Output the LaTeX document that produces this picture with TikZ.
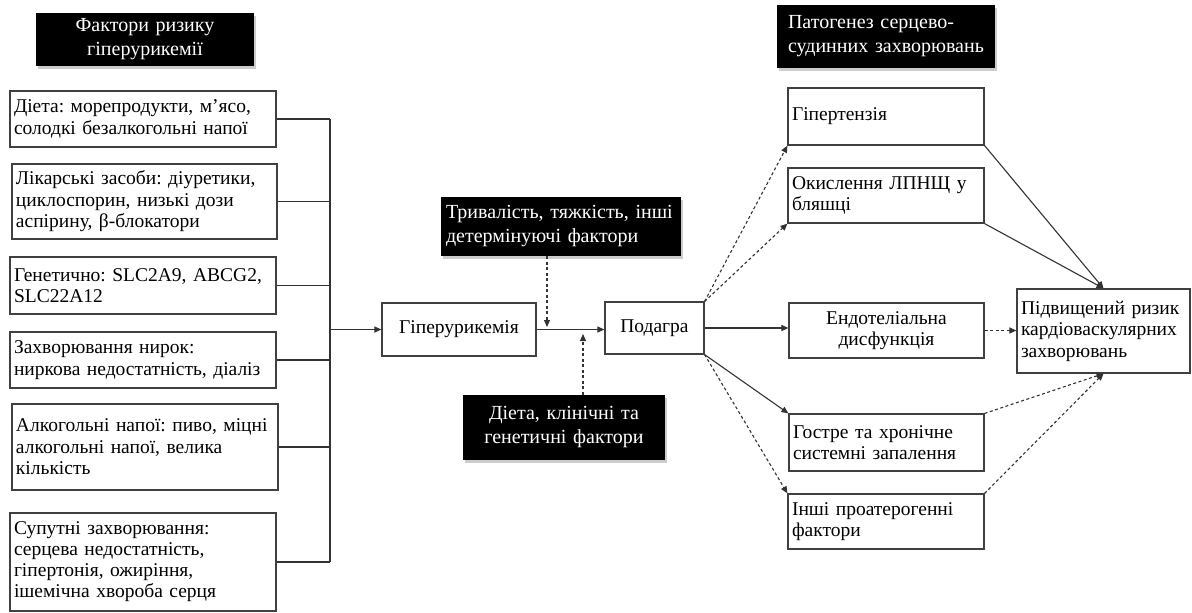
\documentclass[tikz,border=0pt]{standalone}
\usepackage{fontspec}
\setmainfont{Liberation Serif}
\usetikzlibrary{arrows.meta,shadows}
\frenchspacing
\begin{document}
\frenchspacing
\begin{tikzpicture}[x=1pt,y=-1pt]
\tikzset{
 wbox/.style={draw=black!75, line width=1.2pt, fill=white, inner sep=4pt, font=\fontsize{19.5}{21.5}\selectfont, align=left},
 bbox/.style={fill=black, text=white, inner sep=4pt, font=\fontsize{20}{24}\selectfont, drop shadow={shadow xshift=2pt,shadow yshift=-3pt,opacity=0.4}},
 conn/.style={draw=black!80, line width=1.1pt},
 arr/.style={conn, -{Triangle[length=7pt,width=6pt]}},
 darr/.style={arr, dash pattern=on 3pt off 2.5pt},
}
\path[use as bounding box, fill=white] (0,0) rectangle (1192,613);

% titles
\node[bbox, minimum width=218pt, minimum height=53pt, text width=210pt, align=center] (t1) at (145,39.5) {Фактори ризику\\гіперурикемії};
\node[bbox, minimum width=218pt, minimum height=53pt, text width=196pt, inner sep=11pt, align=left] (t2) at (886,36.5) {Патогенез серцево-\\судинних захворювань};

% left factor boxes
\node[wbox, minimum height=56pt, text width=258pt] (f1) at (143,119) {Діета: морепродукти, м’ясо,\\солодкі безалкогольні напої};
\node[wbox, minimum height=75pt, text width=257pt] (f2) at (144.5,201.5) {Лікарські засоби: діуретики,\\циклоспорин, низькі дози\\аспірину, β-блокатори};
\node[wbox, minimum height=57pt, text width=258pt] (f3) at (143,285.5) {Генетично: SLC2A9, ABCG2,\\SLC22A12};
\node[wbox, minimum height=56pt, text width=258pt] (f4) at (143,360) {Захворювання нирок:\\ниркова недостатність, діаліз};
\node[wbox, minimum height=86pt, text width=258pt] (f5) at (145,447) {\makebox[0pt][l]{Алкогольні напої: пиво, міцні}\\алкогольні напої, велика\\кількість};
\node[wbox, minimum height=98pt, text width=258pt, font=\fontsize{19.5}{21}\selectfont] (f6) at (143,562) {Супутні захворювання:\\серцева недостатність,\\гіпертонія, ожиріння,\\ішемічна хвороба серця};

% middle
\node[wbox, minimum height=53pt, text width=146pt, align=center] (hyp) at (459,329.5) {Гіперурикемія};
\node[wbox, minimum height=52pt, text width=91pt, align=center] (pod) at (654.5,328) {Подагра};
\node[bbox, minimum width=240pt, minimum height=59pt, text width=230pt, align=left] (tri) at (561,226.5) {Тривалість, тяжкість, інші\\детермінуючі фактори};
\node[bbox, minimum width=202pt, minimum height=65pt, text width=194pt, align=center] (diet) at (564,427.5) {Діета, клінічні та\\генетичні фактори};

% right boxes
\node[wbox, minimum height=57pt, text width=188pt] (r1) at (886,116.5) {Гіпертензія};
\node[wbox, minimum height=55pt, text width=188pt] (r2) at (886,195.5) {Окислення ЛПНЩ у\\бляшці};
\node[wbox, minimum height=55pt, text width=187pt, align=center] (r3) at (886.5,330.5) {Ендотеліальна\\дисфункція};
\node[wbox, minimum height=57pt, text width=187pt] (r4) at (886.5,442.5) {Гостре та хронічне\\системні запалення};
\node[wbox, minimum height=55pt, text width=188pt] (r5) at (886,521.5) {Інші проатерогенні\\фактори};
\node[wbox, minimum height=84pt, text width=165pt] (risk) at (1103.5,331) {Підвищений ризик\\кардіоваскулярних\\захворювань};

% bus
\coordinate (bus) at (330,0);
\foreach \n in {f1,f2,f3,f4,f5,f6} \draw[conn] (\n.east) -- (\n.east -| bus);
\draw[conn] (bus |- f1.east) -- (bus |- f6.east);
\draw[arr] (bus |- hyp.west) -- (hyp.west);
\draw[arr] (hyp.east) -- (hyp.east -| pod.west);

% modifiers
\coordinate (tdown) at (547,327);
\draw[darr] (tdown |- tri.south) -- (tdown);
\coordinate (dup) at (583,334);
\draw[darr] (dup |- diet.north) -- (dup);

% from gout
\draw[darr] (pod.north east) -- (r1.south west);
\draw[darr] (pod.north east) -- (r2.south west);
\draw[arr] (pod.east) -- (pod.east -| r3.west);
\draw[arr] (pod.south east) -- (r4.north west);
\draw[darr] (pod.south east) -- (r5.north west);

% to risk
\draw[arr] (r1.south east) -- (risk.north);
\draw[arr] (r2.south east) -- (risk.north);
\draw[darr] (r3.east) -- (r3.east -| risk.west);
\draw[darr] (r4.north east) -- (risk.south);
\draw[darr] (r5.north east) -- (risk.south);
\end{tikzpicture}
\end{document}
